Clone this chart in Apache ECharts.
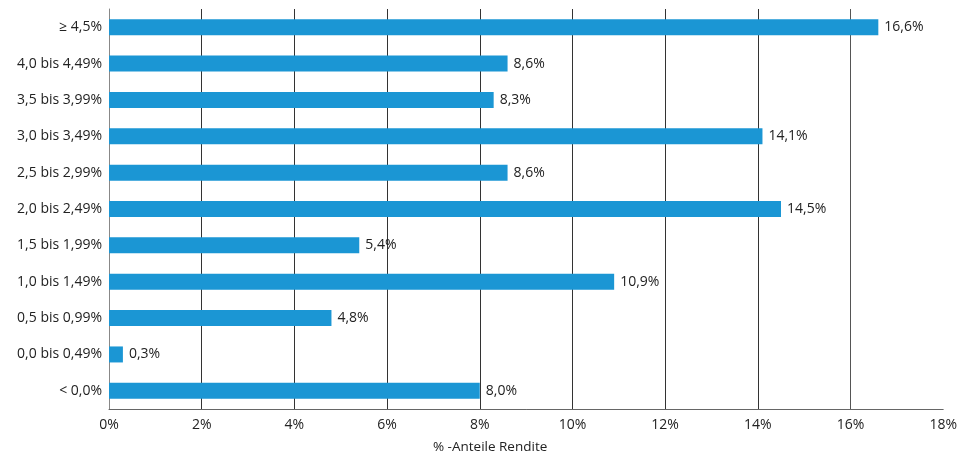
<!DOCTYPE html>
<html><head><meta charset="utf-8">
<script src="https://cdn.jsdelivr.net/npm/echarts@6/dist/echarts.min.js"></script>
<style>html,body{margin:0;padding:0;background:#fff}#c{width:960px;height:465px}</style>
</head><body><div id="c"></div>
<script>
const categories = ['< 0,0%','0,0 bis 0,49%','0,5 bis 0,99%','1,0 bis 1,49%','1,5 bis 1,99%','2,0 bis 2,49%','2,5 bis 2,99%','3,0 bis 3,49%','3,5 bis 3,99%','4,0 bis 4,49%','≥ 4,5%'];
const values = [8.0, 0.3, 4.8, 10.9, 5.4, 14.5, 8.6, 14.1, 8.3, 8.6, 16.6];
const xTicks = [0,2,4,6,8,10,12,14,16,18];
const font = '"Open Sans", "Noto Sans", sans-serif';
const chart = echarts.init(document.getElementById('c'));
chart.setOption({
  animation: false,
  grid: {left: 109, right: 16, top: 9, bottom: 56, containLabel: false},
  xAxis: {
    type: 'value', min: xTicks[0], max: xTicks[xTicks.length - 1], interval: 2,
    axisLine: {show: true, lineStyle: {color: '#666', width: 1}},
    axisTick: {show: false},
    axisLabel: {formatter: v => v + '%', color: '#222', fontFamily: font, fontSize: 14, margin: 9},
    splitLine: {show: true, lineStyle: {color: ['transparent','#333','#333','#333','#333','#333','#333','#333','#555','transparent'], width: 1}},
    name: '% -Anteile Rendite', nameLocation: 'middle', nameGap: 31,
    nameTextStyle: {color: '#222', fontFamily: font, fontSize: 13.5, padding: [0, 72, 0, 0]}
  },
  yAxis: {
    type: 'category', data: categories,
    axisLine: {show: true, lineStyle: {color: '#888', width: 1}},
    axisTick: {show: false},
    axisLabel: {color: '#222', fontFamily: font, fontSize: 14, margin: 7}
  },
  series: [{
    type: 'bar', data: values, barWidth: 16,
    itemStyle: {color: '#1b96d4'},
    label: {show: true, position: 'right', distance: 6, color: '#222', fontFamily: font, fontSize: 14,
      formatter: p => p.value.toFixed(1).replace('.', ',') + '%'}
  }]
});
</script></body></html>
